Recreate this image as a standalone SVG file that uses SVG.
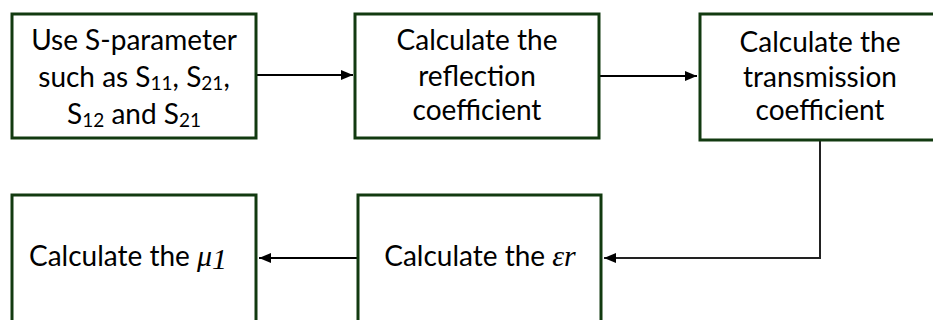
<svg xmlns="http://www.w3.org/2000/svg" width="933" height="320" viewBox="0 0 933 320">
  <defs>
    <style>
      .box { fill: #ffffff; stroke: #123a10; stroke-width: 3; }
      .lbl { font-family: Lato, "Open Sans", sans-serif; font-size: 28px; fill: #000000; text-anchor: middle; }
      .sub { font-size: 19px; }
      .math { font-family: "Liberation Serif", "DejaVu Serif", serif; font-style: italic; font-size: 30px; }
      .wire { fill: none; stroke: #000000; stroke-width: 2; }
      .wire2 { fill: none; stroke: #222222; stroke-width: 2; }
    </style>
    <marker id="arrow" markerUnits="userSpaceOnUse" markerWidth="12" markerHeight="10" refX="12" refY="5" orient="auto">
      <path d="M0,0 L12,5 L0,10 Z" fill="#000000"/>
    </marker>
  </defs>

  <rect width="933" height="320" fill="#ffffff"/>

  <!-- connectors -->
  <g id="connectors">
    <line class="wire" x1="257" y1="75" x2="353" y2="75" marker-end="url(#arrow)"/>
    <line class="wire" x1="600" y1="76" x2="697" y2="76" marker-end="url(#arrow)"/>
    <polyline class="wire2" points="820,141 820,258 604,258" marker-end="url(#arrow)"/>
    <line class="wire" x1="357" y1="258" x2="259" y2="258" marker-end="url(#arrow)"/>
  </g>

  <!-- S-parameter input -->
  <g id="node-sparam">
    <rect class="box" x="12" y="14" width="244" height="124"/>
    <text class="lbl" x="134" y="50">Use S-parameter</text>
    <text class="lbl" x="134" y="87">such as S<tspan class="sub" dy="3">11</tspan><tspan dy="-3">, S</tspan><tspan class="sub" dy="3">21</tspan><tspan dy="-3">,</tspan></text>
    <text class="lbl" x="134" y="124">S<tspan class="sub" dy="3">12</tspan><tspan dy="-3"> and S</tspan><tspan class="sub" dy="3">21</tspan></text>
  </g>

  <!-- reflection coefficient -->
  <g id="node-reflection">
    <rect class="box" x="355" y="14" width="244" height="124"/>
    <text class="lbl" x="477" y="50">Calculate the</text>
    <text class="lbl" x="477" y="86">reflection</text>
    <text class="lbl" x="477" y="120">coefficient</text>
  </g>

  <!-- transmission coefficient -->
  <g id="node-transmission">
    <rect class="box" x="700" y="14" width="246" height="126"/>
    <text class="lbl" x="820" y="52">Calculate the</text>
    <text class="lbl" x="820" y="87">transmission</text>
    <text class="lbl" x="820" y="120">coefficient</text>
  </g>

  <!-- relative permittivity -->
  <g id="node-epsilon">
    <rect class="box" x="358" y="195" width="243" height="140"/>
    <text class="lbl" x="480" y="266">Calculate the <tspan class="math">εr</tspan></text>
  </g>

  <!-- permeability -->
  <g id="node-mu">
    <rect class="box" x="12" y="195" width="244" height="140"/>
    <text class="lbl" x="128" y="266">Calculate the <tspan class="math">μ</tspan><tspan class="math" font-size="21px" dy="3">1</tspan></text>
  </g>
</svg>
